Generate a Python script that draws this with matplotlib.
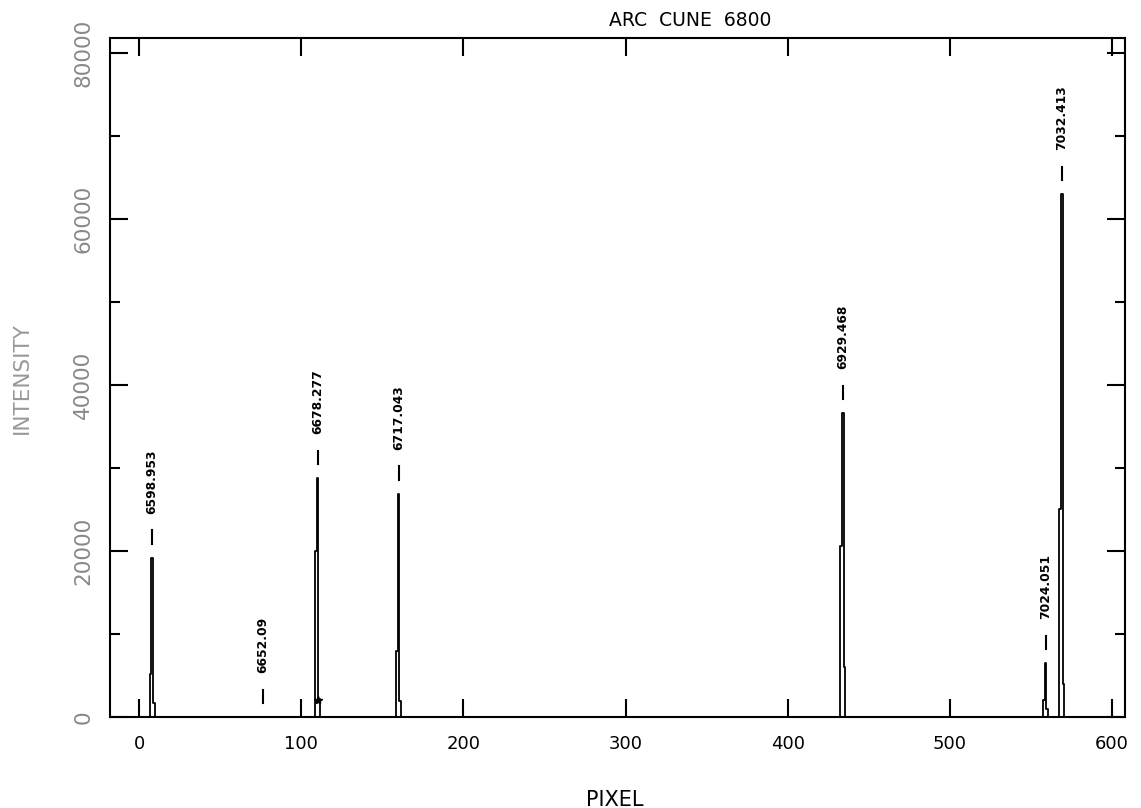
import matplotlib
matplotlib.use("Agg")
import matplotlib.pyplot as plt
from matplotlib.ticker import MultipleLocator

# arc spectrum, sampled around each line (counts per pixel, 0 elsewhere)
pixel = [-18, 6, 7, 8, 9, 10,
         108, 109, 110, 111, 112,
         158, 159, 160, 161, 162,
         432, 433, 434, 435, 436,
         557, 558, 559, 560, 561,
         567, 568, 569, 570, 571, 608]
counts = [0, 0, 5200, 19200, 1700, 0,
          0, 20000, 28800, 2200, 0,
          0, 8000, 26900, 1900, 0,
          0, 20600, 36600, 6000, 0,
          0, 2000, 6500, 1000, 0,
          0, 25000, 63000, 4000, 0, 0]

# identified lines: pixel position, wavelength label, top of the feature
line_pixel = [8, 76.5, 110, 160, 434, 559, 569]
line_label = ["6598.953", "6652.09", "6678.277", "6717.043",
              "6929.468", "7024.051", "7032.413"]
line_top = [19200, 0, 28800, 26900, 36600, 6500, 63000]

# marked point on the 6678 line
star_pixel = [110]
star_counts = [2050]

fig = plt.figure(figsize=(11.41, 8.08), dpi=100)
ax = fig.add_axes([110 / 1141, 1 - 717 / 808, 1015 / 1141, 679 / 808])

ax.plot(pixel, counts, drawstyle="steps-mid", color="black", lw=1.3)
ax.plot(star_pixel, star_counts, "*", color="black", ms=6)

for x, lab, top in zip(line_pixel, line_label, line_top):
    ax.plot([x, x], [top + 1700, top + 3300], color="black", lw=1.5)
    ax.text(x, top + 5300, lab, rotation=90, ha="center", va="bottom",
            fontsize=8.8, fontweight="bold")

ax.set_xlim(-18, 608)
ax.set_ylim(0, 81800)
ax.xaxis.set_major_locator(MultipleLocator(100))
ax.yaxis.set_major_locator(MultipleLocator(20000))
ax.yaxis.set_minor_locator(MultipleLocator(10000))
ax.tick_params(which="both", direction="in", top=True, right=True, width=1.5)
ax.tick_params(which="major", length=13)
ax.tick_params(which="minor", length=7.5)
ax.tick_params(axis="x", labelsize=13, pad=13)
ax.tick_params(axis="y", labelsize=15.5, pad=12, labelcolor="#888888")
for lab in ax.get_yticklabels():
    lab.set_rotation(90)
    lab.set_va("center")
# the last x label is faint in the original print
fig.canvas.draw()
ax.get_xticklabels()[-1].set_color("#999999")
for sp in ax.spines.values():
    sp.set_linewidth(1.5)

fig.text(690 / 1141, 1 - 20 / 808, "ARC  CUNE  6800", ha="center", va="center",
         fontsize=13.5)
fig.text(22 / 1141, 1 - 378 / 808, "INTENSITY", rotation=90, ha="center",
         va="center", fontsize=15.5, color="#999999")
fig.text(615 / 1141, 1 - 790 / 808, "PIXEL", ha="center", va="top", fontsize=15)

fig.savefig("out.png", dpi=100)
